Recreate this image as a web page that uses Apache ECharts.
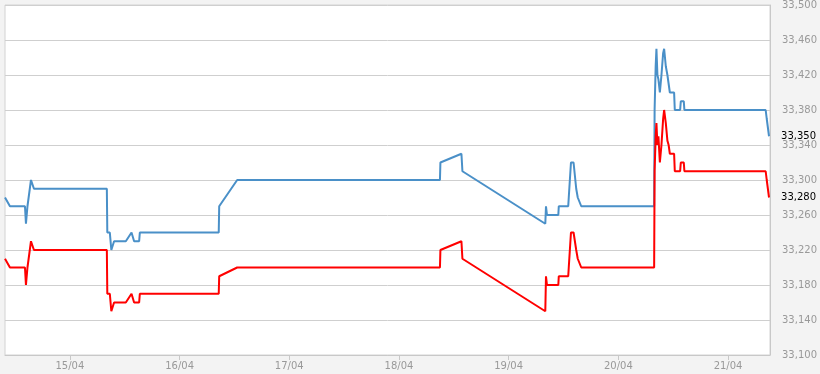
<!DOCTYPE html>
<html><head><meta charset="utf-8">
<script src="https://cdn.jsdelivr.net/npm/echarts@6/dist/echarts.min.js"></script>
<style>html,body{margin:0;padding:0;background:#f3f3f3;}#c{width:820px;height:374px;}</style>
</head><body><div id="c"></div>
<script>
// time stamps (dd/MM HH:mm)
const times = [
 '14/04 09:48','14/04 10:14','14/04 10:53','14/04 14:10','14/04 14:23','14/04 14:32','14/04 14:43','14/04 15:02','14/04 15:29','14/04 16:08',
 '15/04 08:05','15/04 08:11','15/04 08:44','15/04 09:04','15/04 09:30','15/04 09:40','15/04 12:14','15/04 13:29','15/04 14:03','15/04 15:09','15/04 15:18',
 '16/04 08:34','16/04 08:40','16/04 12:36',
 '18/04 08:58','18/04 09:04','18/04 13:40','18/04 13:53',
 '19/04 08:01','19/04 08:10','19/04 08:23','19/04 10:52','19/04 10:58','19/04 13:02','19/04 13:09','19/04 13:38','19/04 14:12','19/04 14:47','19/04 15:07','19/04 15:53',
 '20/04 07:50','20/04 07:56','20/04 08:10','20/04 08:20','20/04 08:33','20/04 08:46','20/04 09:05','20/04 09:26','20/04 09:48','20/04 10:01','20/04 10:23','20/04 10:44','20/04 11:00','20/04 11:16','20/04 12:12','20/04 12:21','20/04 13:31','20/04 13:40','20/04 14:19','20/04 14:27',
 '21/04 08:14','21/04 08:28','21/04 08:58'
];
const askValues = [
 33280,33280,33270,33270,33250,33250,33270,33270,33300,33290,
 33290,33240,33240,33220,33220,33230,33230,33240,33230,33230,33240,
 33240,33270,33300,
 33300,33320,33330,33310,
 33250,33270,33260,33260,33270,33270,33280,33320,33320,33290,33280,33270,
 33270,33380,33430,33450,33420,33415,33400,33420,33445,33450,33430,33420,33410,33400,33400,33380,33380,33390,33390,33380,
 33380,33370,33350
];
const bidValues = [
 33210,33210,33200,33200,33180,33180,33200,33200,33230,33220,
 33220,33170,33170,33150,33150,33160,33160,33170,33160,33160,33170,
 33170,33190,33200,
 33200,33220,33230,33210,
 33150,33190,33180,33180,33190,33190,33200,33240,33240,33220,33210,33200,
 33200,33310,33350,33365,33340,33350,33320,33340,33370,33380,33365,33345,33340,33330,33330,33310,33310,33320,33320,33310,
 33310,33300,33280
];
const dayLabels = ['15/04','16/04','17/04','18/04','19/04','20/04','21/04'];
const yTickValues = [33100,33140,33180,33220,33260,33300,33340,33380,33420,33460,33500];
const axisStart = '14/04 09:48';
const axisEnd = '21/04 09:11';

function toHours(s){
  const [d,t] = s.split(' ');
  const [dd] = d.split('/').map(Number);
  const [hh,mi] = t.split(':').map(Number);
  return (dd-15)*24 + hh + mi/60;
}
const dayHours = dayLabels.map(l => (Number(l.split('/')[0])-15)*24);
const fmtNum = v => Number(v).toLocaleString('en-US');

const chart = echarts.init(document.getElementById('c'));
chart.setOption({
  animation: false,
  backgroundColor: '#f3f3f3',
  grid: {left: 5, right: 49, top: 5, bottom: 19, show: true, backgroundColor: '#fff', borderColor: '#d2d2d2', borderWidth: 1},
  xAxis: {
    type: 'value', min: toHours(axisStart), max: toHours(axisEnd),
    splitLine: {show: false},
    axisLine: {onZero: false, lineStyle: {color: '#c8c8c8'}},
    axisTick: {show: true, length: 5, customValues: dayHours, lineStyle: {color: '#c8c8c8'}},
    axisLabel: {customValues: dayHours, color: '#999', fontFamily: 'DejaVu Sans', fontSize: 10, margin: 6,
      formatter: v => dayLabels[dayHours.indexOf(v)] || ''}
  },
  yAxis: {
    type: 'value', position: 'right', min: 33100, max: 33500, interval: 40,
    axisLine: {show: true, onZero: false, lineStyle: {color: '#c8c8c8'}},
    axisTick: {show: false, customValues: yTickValues},
    splitLine: {show: true, lineStyle: {color: '#cfcfcf'}},
    axisLabel: {customValues: yTickValues, color: '#999', fontFamily: 'DejaVu Sans', fontSize: 10, margin: 12, formatter: fmtNum}
  },
  series: [
    {type: 'line', name: 'Ask', showSymbol: false, symbol: 'none',
     data: times.map((t,i) => [toHours(t), askValues[i]]),
     lineStyle: {color: '#4a90c8', width: 2},
     endLabel: {show: true, distance: 12, color: '#000', fontFamily: 'DejaVu Sans', fontSize: 10, formatter: p => fmtNum(p.value[1])}},
    {type: 'line', name: 'Bid', showSymbol: false, symbol: 'none',
     data: times.map((t,i) => [toHours(t), bidValues[i]]),
     lineStyle: {color: '#ff0000', width: 2},
     endLabel: {show: true, distance: 12, color: '#000', fontFamily: 'DejaVu Sans', fontSize: 10, formatter: p => fmtNum(p.value[1])}}
  ]
});
</script></body></html>
